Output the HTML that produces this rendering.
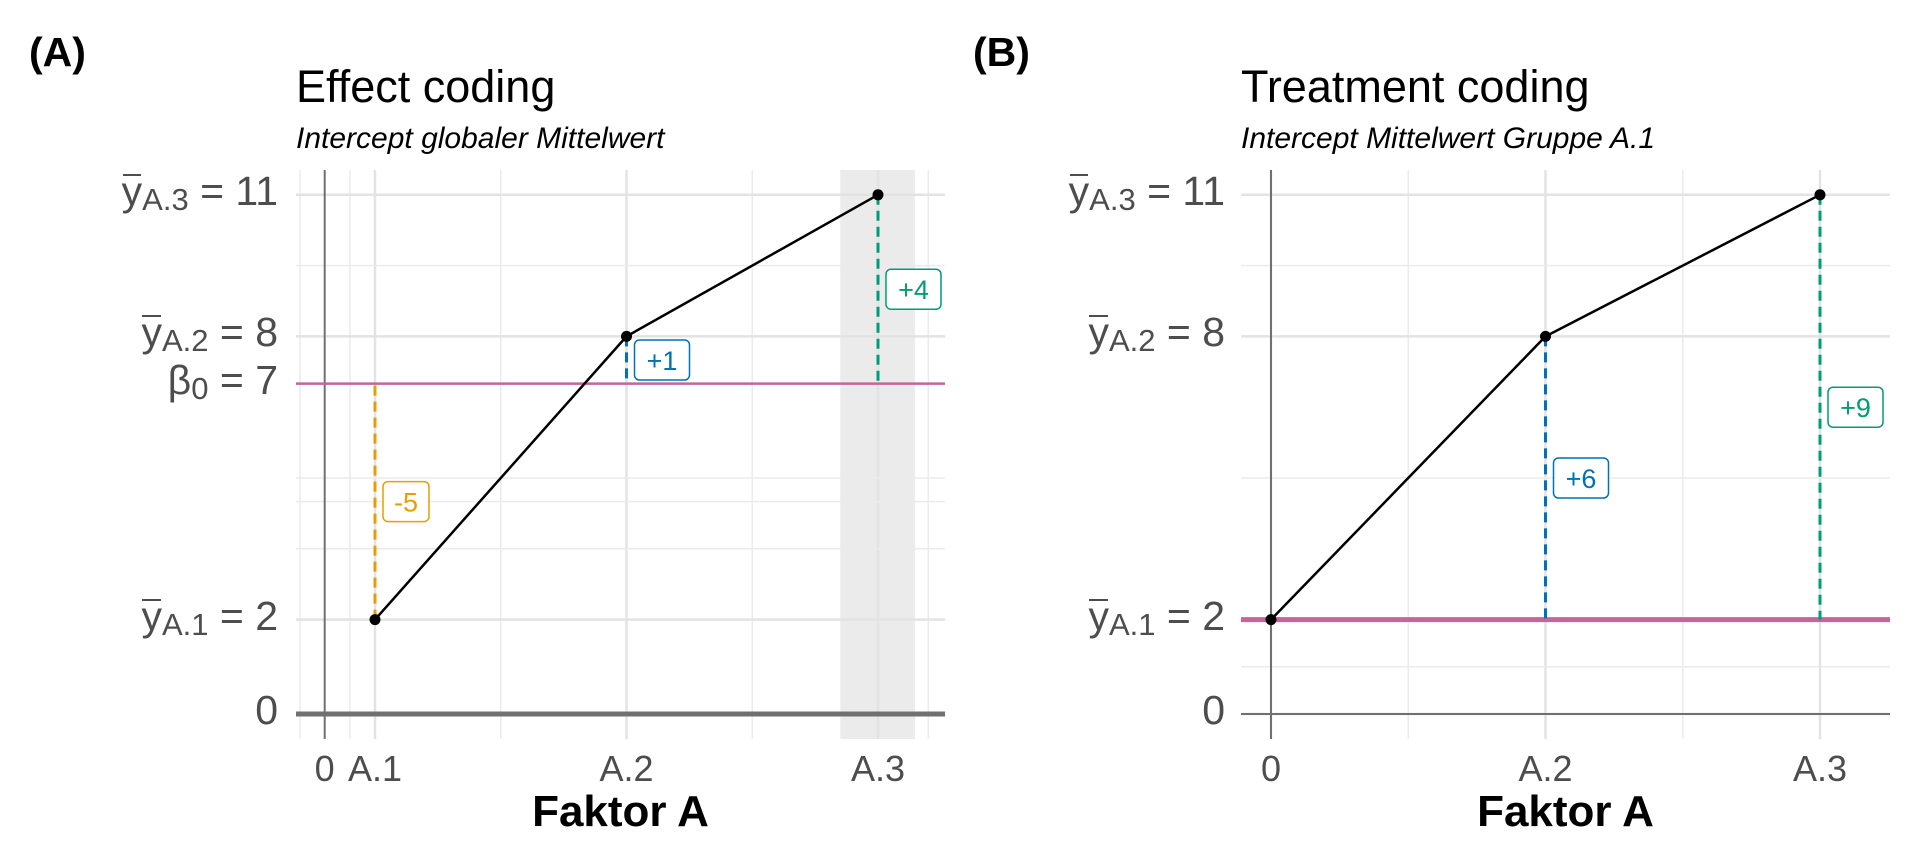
<!DOCTYPE html>
<html><head><meta charset="utf-8">
<style>
html,body{margin:0;padding:0;background:#fff;}
#root{position:relative;width:1920px;height:864px;overflow:hidden;font-family:"Liberation Sans",sans-serif;}
.ylab{position:absolute;font-size:41px;color:#4d4d4d;white-space:nowrap;text-align:right;line-height:1;}
.ylab .ov{position:relative;}
.ylab .ov::before{content:'';position:absolute;left:1px;right:1px;top:6px;border-top:2px solid #4d4d4d;}
.ylab sub{font-size:31px;vertical-align:-5px;}
svg{position:absolute;left:0;top:0;}
</style></head>
<body>
<div id="root">
<svg id="chart" width="1920" height="864"></svg>
</div>
<script>
// ---- data ----
const groupsA = ["A.1","A.2","A.3"];
const groupPosA = [1,2,3];
const meansA = [2,8,11];
const interceptA = 7;
const diffLabelsA = ["-5","+1","+4"];
const groupsB = ["A.1","A.2","A.3"];
const groupPosB = [0,1,2];
const meansB = [2,8,11];
const interceptB = 2;
const diffLabelsB = ["","+6","+9"];
const yBreaksA = [0,2,7,8,11];
const yMinorA = [3.5,4.5,5,9.5];
const yBreaksB = [0,2,8,11];
const yMinorB = [1,5,9.5];

const NS="http://www.w3.org/2000/svg";
const svg=document.getElementById('chart');
const root=document.getElementById('root');
function el(tag,attrs,parent){const e=document.createElementNS(NS,tag);for(const k in attrs)e.setAttribute(k,attrs[k]);(parent||svg).appendChild(e);return e;}
const colors=["#E69F00","#0072B2","#009E73"];

function yScale(v){return 714-v*47.2;}
const plotTop=170,plotBottom=739;

function panel(cfg){
  const g=el('g',{});
  
  
  const X=cfg.x;
  if(cfg.shade){const r=el('rect',{x:X(cfg.shade[0]),y:plotTop,width:X(cfg.shade[1])-X(cfg.shade[0]),height:plotBottom-plotTop,fill:'#ebebeb'},g);
    }
  cfg.xMinor.forEach(u=>{const l=el('line',{x1:X(u),x2:X(u),y1:plotTop,y2:plotBottom,stroke:'#ebebeb','stroke-width':1.5},g);});
  cfg.xMajor.forEach(u=>{const l=el('line',{x1:X(u),x2:X(u),y1:plotTop,y2:plotBottom,stroke:'#e3e3e3','stroke-width':2.5},g);});
  cfg.yMinor.forEach(v=>{const l=el('line',{x1:cfg.left,x2:cfg.right,y1:yScale(v),y2:yScale(v),stroke:'#ebebeb','stroke-width':1.5},g);});
  cfg.yBreaks.forEach(v=>{const l=el('line',{x1:cfg.left,x2:cfg.right,y1:yScale(v),y2:yScale(v),stroke:'#e3e3e3','stroke-width':2.5},g);});
  const vx=el('line',{x1:X(cfg.zeroX),x2:X(cfg.zeroX),y1:plotTop,y2:plotBottom,stroke:'#707070','stroke-width':2},g);
  
  const hx=el('line',{x1:cfg.left,x2:cfg.right,y1:yScale(0),y2:yScale(0),stroke:'#707070','stroke-width':cfg.zeroW},g);
  
  const il=el('line',{x1:cfg.left,x2:cfg.right,y1:yScale(cfg.intercept),y2:yScale(cfg.intercept),stroke:'#C7649C','stroke-width':cfg.intW},g);
  
  cfg.pos.forEach((u,i)=>{
    if(!cfg.labels[i])return;
    const c=colors[i];
    const d=el('line',{x1:X(u),x2:X(u),y1:yScale(cfg.means[i]),y2:yScale(cfg.intercept),stroke:c,'stroke-width':3,'stroke-dasharray':'10,6'},g);
    
    const mid=(yScale(cfg.means[i])+yScale(cfg.intercept))/2;
    const w=cfg.labels[i][0]=='+'?55:46;
    const bx=X(u)+8, by=mid-20;
    const lb=el('g',{},g);
    el('rect',{x:bx,y:by,width:w,height:40,rx:5,fill:'#fff',stroke:c,'stroke-width':1.5},lb);
    const t=el('text',{x:bx+w/2,y:by+30,'text-anchor':'middle','font-size':27,fill:c},lb);t.textContent=cfg.labels[i];
  });
  const pts=cfg.pos.map((u,i)=>X(u)+','+yScale(cfg.means[i])).join(' ');
  const pl=el('polyline',{points:pts,fill:'none',stroke:'#000','stroke-width':2.5},g);
  
  cfg.pos.forEach((u,i)=>{const c=el('circle',{cx:X(u),cy:yScale(cfg.means[i]),r:5.5,fill:'#000'},g);
    });
  cfg.xTicks.forEach(([u,txt])=>{const t=el('text',{x:X(u),y:781,'text-anchor':'middle','font-size':36,fill:'#4d4d4d'},g);t.textContent=txt;
    });
  const xt=el('text',{x:(cfg.left+cfg.right)/2,y:826,'text-anchor':'middle','font-size':44,'font-weight':'bold',fill:'#000'},g);
  xt.textContent='Faktor A';
  const pt=el('text',{x:cfg.left,y:102,'font-size':45,fill:'#000'},g);pt.textContent=cfg.title;
  
  const st=el('text',{x:cfg.left,y:148,'font-size':30,'font-style':'italic',fill:'#000'},g);st.textContent=cfg.subtitle;
  
  const tag=el('text',{x:cfg.tagX,y:66,'font-size':41,'font-weight':'bold',fill:'#000'},g);tag.textContent=cfg.tag;
  
  cfg.yLabels.forEach(([v,html])=>{
    const d=document.createElement('div');d.className='ylab';
    
    
    d.innerHTML=html;d.style.right=(1920-cfg.labelRight)+'px';d.style.top=(yScale(v)-24)+'px';
    root.appendChild(d);
  });
}
const yl=(s)=>'<span class="ov">y</span><sub>'+s+'</sub> = ';
const xA=u=>375+(u-1)*251.5;
panel({name:'panel-effect-coding',x:xA,left:296,right:945,shade:[2.85,3.147],
  xMinor:[0.702,0.9,1.5,2.5,3.1,3.2],xMajor:groupPosA,yMinor:yMinorA,yBreaks:yBreaksA,
  zeroX:0.8,zeroW:5,intercept:interceptA,intW:2.5,pos:groupPosA,means:meansA,labels:diffLabelsA,
  xTicks:[[0.8,'0']].concat(groupsA.map((g,i)=>[groupPosA[i],g])),
  title:'Effect coding',subtitle:'Intercept globaler Mittelwert',tag:'(A)',tagX:29,labelRight:278,
  yLabels:[[meansA[2],yl('A.3')+meansA[2]],[meansA[1],yl('A.2')+meansA[1]],[interceptA,'β<sub>0</sub> = '+interceptA],[meansA[0],yl('A.1')+meansA[0]],[0,'0']]});
const xB=u=>1271+u*274.5;
panel({name:'panel-treatment-coding',x:xB,left:1241,right:1890,shade:null,
  xMinor:[0.5,1.5],xMajor:groupPosB,yMinor:yMinorB,yBreaks:yBreaksB,
  zeroX:0,zeroW:2,intercept:interceptB,intW:5,pos:groupPosB,means:meansB,labels:diffLabelsB,
  xTicks:[[0,'0'],[groupPosB[1],groupsB[1]],[groupPosB[2],groupsB[2]]],
  title:'Treatment coding',subtitle:'Intercept Mittelwert Gruppe A.1',tag:'(B)',tagX:973,labelRight:1225,
  yLabels:[[meansB[2],yl('A.3')+meansB[2]],[meansB[1],yl('A.2')+meansB[1]],[meansB[0],yl('A.1')+meansB[0]],[0,'0']]});
</script>
</body></html>
